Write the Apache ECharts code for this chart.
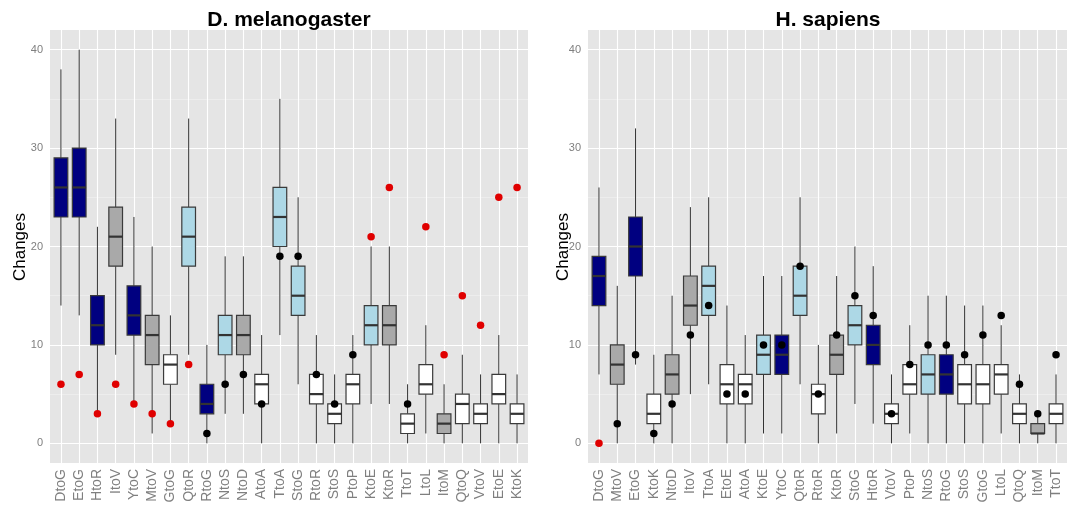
<!DOCTYPE html>
<html><head><meta charset="utf-8">
<script src="https://cdn.jsdelivr.net/npm/echarts@6/dist/echarts.min.js"></script>
<style>html,body{margin:0;padding:0;background:#fff}#c{width:1072px;height:508px}</style>
</head><body><div id="c"></div>
<script>
// ---------- data ----------
const leftTitle = 'D. melanogaster';
const rightTitle = 'H. sapiens';
const yAxisTitle = 'Changes';
const yTicks = [0, 10, 20, 30, 40];
const yMinorTicks = [5, 15, 25, 35];

const leftCategories = ['DtoG','EtoG','HtoR','ItoV','YtoC','MtoV','GtoG','QtoR','RtoG','NtoS','NtoD','AtoA','TtoA','StoG','RtoR','StoS','PtoP','KtoE','KtoR','TtoT','LtoL','ItoM','QtoQ','VtoV','EtoE','KtoK'];
const leftLow    = [14,13, 3, 9, 4, 1, 2, 9, 0, 3, 3, 0,11, 6, 0, 0, 0, 4, 4, 0, 1, 0, 0, 0, 0, 0];
const leftQ1     = [23,23,10,18,11, 8, 6,18, 3, 9, 9, 4,20,13, 4, 2, 4,10,10, 1, 5, 1, 2, 2, 4, 2];
const leftMedian = [26,26,12,21,13,11, 8,21, 4,11,11, 6,23,15, 5, 3, 6,12,12, 2, 6, 2, 4, 3, 5, 3];
const leftQ3     = [29,30,15,24,16,13, 9,24, 6,13,13, 7,26,18, 7, 4, 7,14,14, 3, 8, 3, 5, 4, 7, 4];
const leftHigh   = [38,40,22,33,23,20,13,33,10,19,19,11,35,25,11, 7,11,20,20, 6,12, 6, 9, 7,11, 7];
// fill class: 0 = navy, 1 = grey, 2 = light blue, 3 = white
const leftGroup  = [0,0,0,1,0,1,3,2,0,2,1,3,2,2,3,3,3,2,1,3,3,1,3,3,3,3];
const leftPoint  = [6,7,3,6,4,3,2,8,1,6,7,4,19,19,7,4,9,21,26,4,22,9,15,12,25,26];
// point class: 1 = red, 0 = black
const leftPointRed = [1,1,1,1,1,1,1,1,0,0,0,0,0,0,0,0,0,1,1,0,1,1,1,1,1,1];

const rightCategories = ['DtoG','MtoV','EtoG','KtoK','NtoD','ItoV','TtoA','EtoE','AtoA','KtoE','YtoC','QtoR','RtoR','KtoR','StoG','HtoR','VtoV','PtoP','NtoS','RtoG','StoS','GtoG','LtoL','QtoQ','ItoM','TtoT'];
const rightLow    = [ 7, 0, 8, 0, 0, 5, 6, 0, 0, 1, 1, 6, 0, 1, 4, 2, 0, 1, 0, 0, 0, 0, 1, 0, 0, 0];
const rightQ1     = [14, 6,17, 2, 5,12,13, 4, 4, 7, 7,13, 3, 7,10, 8, 2, 5, 5, 5, 4, 4, 5, 2, 1, 2];
const rightMedian = [17, 8,20, 3, 7,14,16, 6, 6, 9, 9,15, 5, 9,12,10, 3, 6, 7, 7, 6, 6, 7, 3, 1, 3];
const rightQ3     = [19,10,23, 5, 9,17,18, 8, 7,11,11,18, 6,11,14,12, 4, 8, 9, 9, 8, 8, 8, 4, 2, 4];
const rightHigh   = [26,16,32, 9,15,24,25,14,11,17,17,25,10,17,20,18, 7,12,15,15,14,14,12, 7, 3, 7];
const rightGroup  = [0,1,0,3,1,1,2,3,3,2,0,2,3,1,2,0,3,3,2,0,3,3,3,3,1,3];
const rightPoint  = [0,2,9,1,4,11,14,5,5,10,10,18,5,11,15,13,3,8,10,10,9,11,13,6,3,9];
const rightPointRed = [1,0,0,0,0,0,0,0,0,0,0,0,0,0,0,0,0,0,0,0,0,0,0,0,0,0];

// ---------- styles ----------
const fillColors = ['#000080', '#A9A9A9', '#ADD8E6', '#FFFFFF'];
const pointColors = ['#000000', '#E00000'];
const grey = '#7F7F7F';
const font = 'Liberation Sans, Arial, sans-serif';
const Y_MIN = -2, Y_MAX = 42;

const TOP = 30, H = 433;
const panels = [
  { left: 50, width: 478 },
  { left: 588, width: 479 }
];

const grids = [], xAxes = [], yAxes = [], series = [];
const datasets = [
  { cats: leftCategories, lo: leftLow, q1: leftQ1, md: leftMedian, q3: leftQ3, hi: leftHigh, grp: leftGroup, pt: leftPoint, red: leftPointRed },
  { cats: rightCategories, lo: rightLow, q1: rightQ1, md: rightMedian, q3: rightQ3, hi: rightHigh, grp: rightGroup, pt: rightPoint, red: rightPointRed }
];

panels.forEach((p, k) => {
  const d = datasets[k];
  const n = d.cats.length;
  const idx = d.cats.map((c, i) => i);
  grids.push({ left: p.left, top: TOP, width: p.width, height: H, show: true, backgroundColor: '#E5E5E5', borderWidth: 0, containLabel: false });

  const xi = xAxes.length;
  xAxes.push({
    gridIndex: k, type: 'value', min: -0.6, max: n - 1 + 0.6,
    axisLine: { show: false },
    axisTick: { show: true, customValues: idx, length: 4, lineStyle: { color: grey, width: 1 } },
    axisLabel: {
      show: true, customValues: idx, rotate: 90, color: grey, fontSize: 14, margin: 6, fontFamily: font,
      hideOverlap: false, showMinLabel: true, showMaxLabel: true,
      formatter: v => d.cats[Math.round(v)]
    },
    splitLine: { show: false }
  });

  const yi = yAxes.length;
  yAxes.push({
    gridIndex: k, type: 'value', min: Y_MIN, max: Y_MAX,
    axisLine: { show: false },
    axisTick: { show: true, length: 4, customValues: yTicks, lineStyle: { color: grey, width: 1 } },
    axisLabel: { show: true, customValues: yTicks, color: grey, fontSize: 11, margin: 7, fontFamily: font },
    splitLine: { show: false }
  });

  // panel grid lines, placed at data values through the axes
  const major = { color: '#FFFFFF', width: 1.1, type: 'solid' };
  const minor = { color: '#F2F2F2', width: 0.6, type: 'solid' };
  series.push({
    type: 'scatter', xAxisIndex: xi, yAxisIndex: yi, z: 1, symbolSize: 0, silent: true,
    data: [],
    markLine: {
      z: 1, silent: true, animation: false, symbol: ['none', 'none'], label: { show: false },
      lineStyle: major,
      emphasis: { disabled: true },
      data: [].concat(
        yMinorTicks.map(v => ({ yAxis: v, lineStyle: minor })),
        yTicks.map(v => ({ yAxis: v, lineStyle: major })),
        idx.map(i => ({ xAxis: i, lineStyle: major }))
      )
    }
  });

  series.push({
    type: 'custom', xAxisIndex: xi, yAxisIndex: yi, z: 3, clip: false,
    data: idx.map(i => [i, d.lo[i], d.q1[i], d.md[i], d.q3[i], d.hi[i], d.grp[i]]),
    renderItem: function (params, api) {
      const i = api.value(0);
      const lo = api.coord([i, api.value(1)]);
      const q1 = api.coord([i, api.value(2)]);
      const md = api.coord([i, api.value(3)]);
      const q3 = api.coord([i, api.value(4)]);
      const hi = api.coord([i, api.value(5)]);
      const cx = lo[0];
      const bw = api.size([0.75, 0])[0];
      const fill = fillColors[api.value(6)];
      return {
        type: 'group',
        children: [
          { type: 'line', shape: { x1: cx, y1: hi[1], x2: cx, y2: q3[1] }, style: { stroke: '#333333', lineWidth: 1 } },
          { type: 'line', shape: { x1: cx, y1: q1[1], x2: cx, y2: lo[1] }, style: { stroke: '#333333', lineWidth: 1 } },
          { type: 'rect', shape: { x: cx - bw / 2, y: q3[1], width: bw, height: q1[1] - q3[1] }, style: { fill: fill, stroke: '#3A3A3A', lineWidth: 1.2 } },
          { type: 'line', shape: { x1: cx - bw / 2, y1: md[1], x2: cx + bw / 2, y2: md[1] }, style: { stroke: '#333333', lineWidth: 2.2 } }
        ]
      };
    }
  });
  series.push({
    type: 'scatter', xAxisIndex: xi, yAxisIndex: yi, z: 4, symbol: 'circle', symbolSize: 7.5,
    itemStyle: { opacity: 1 },
    data: idx.map(i => ({ value: [i, d.pt[i]], itemStyle: { color: pointColors[d.red[i]], opacity: 1 } }))
  });
});

const option = {
  animation: false,
  backgroundColor: '#FFFFFF',
  grid: grids, xAxis: xAxes, yAxis: yAxes, series: series,
  graphic: [
    { type: 'text', x: 289, y: 20, style: { text: leftTitle, font: 'bold 21px ' + font, fill: '#000', align: 'center', verticalAlign: 'middle' } },
    { type: 'text', x: 828, y: 20, style: { text: rightTitle, font: 'bold 21px ' + font, fill: '#000', align: 'center', verticalAlign: 'middle' } },
    { type: 'text', x: 20, y: 247, rotation: Math.PI / 2, style: { text: yAxisTitle, font: '17px ' + font, fill: '#000', align: 'center', verticalAlign: 'middle' } },
    { type: 'text', x: 563, y: 247, rotation: Math.PI / 2, style: { text: yAxisTitle, font: '17px ' + font, fill: '#000', align: 'center', verticalAlign: 'middle' } }
  ]
};
const chart = echarts.init(document.getElementById('c'), null, { renderer: 'canvas' });
chart.setOption(option);
</script>
</body></html>
